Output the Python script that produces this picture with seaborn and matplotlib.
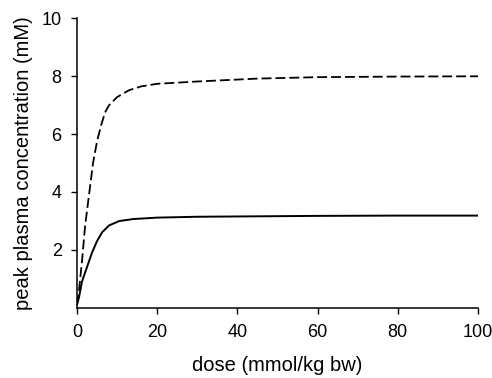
import numpy as np
import pandas as pd
import matplotlib
matplotlib.use("Agg")
import matplotlib.pyplot as plt
import seaborn as sns

# dose (mmol/kg bw) and peak plasma concentration (mM)
dose_s = [0, 0.5, 1.25, 2.5, 3.75, 5, 6.25, 8, 10.5, 14, 20, 30, 40, 60, 80, 100]
conc_solid = [0.1, 0.35, 0.9, 1.4, 1.9, 2.3, 2.6, 2.84, 2.99, 3.06, 3.11, 3.14, 3.15, 3.17, 3.18, 3.18]
dose_d = [0, 0.5, 1.25, 2, 3, 4, 5, 6, 7, 8, 10, 13, 16, 20, 30, 45, 60, 80, 100]
conc_dashed = [0.1, 0.6, 1.6, 2.8, 3.9, 5.0, 5.75, 6.3, 6.75, 7.0, 7.28, 7.52, 7.65, 7.74, 7.82, 7.92, 7.97, 7.99, 8.0]

sns.set_style("ticks")
plt.rcParams['font.family'] = ['Liberation Sans', 'DejaVu Sans']

fig = plt.figure(figsize=(4.92, 3.78), dpi=100)
ax = fig.add_axes([0.1565, 0.1865, 0.815, 0.7646])

df_s = pd.DataFrame({"dose": dose_s, "conc": conc_solid})
df_d = pd.DataFrame({"dose": dose_d, "conc": conc_dashed})
sns.lineplot(data=df_s, x="dose", y="conc", ax=ax, color="black", lw=1.4)
sns.lineplot(data=df_d, x="dose", y="conc", ax=ax, color="black", lw=1.3)
ax.lines[-1].set_dashes([5.5, 2.2])

ax.set_xlim(0, 100)
ax.set_ylim(0, 10)
ax.set_xticks([0, 20, 40, 60, 80, 100])
ax.set_yticks([2, 4, 6, 8, 10])
ax.tick_params(labelsize=13, length=4, width=1, color="black", labelcolor="black")
ax.tick_params(axis="x", pad=8)
ax.tick_params(axis="y", pad=7)
for s in ["left", "bottom"]:
    ax.spines[s].set_linewidth(1.1)
    ax.spines[s].set_color("black")
sns.despine(ax=ax)

ax.set_xlabel("dose (mmol/kg bw)", fontsize=14.5, labelpad=11, color="black")
ax.set_ylabel("peak plasma concentration (mM)", fontsize=14.5, labelpad=6, color="black")

fig.savefig("out.png", dpi=100)
